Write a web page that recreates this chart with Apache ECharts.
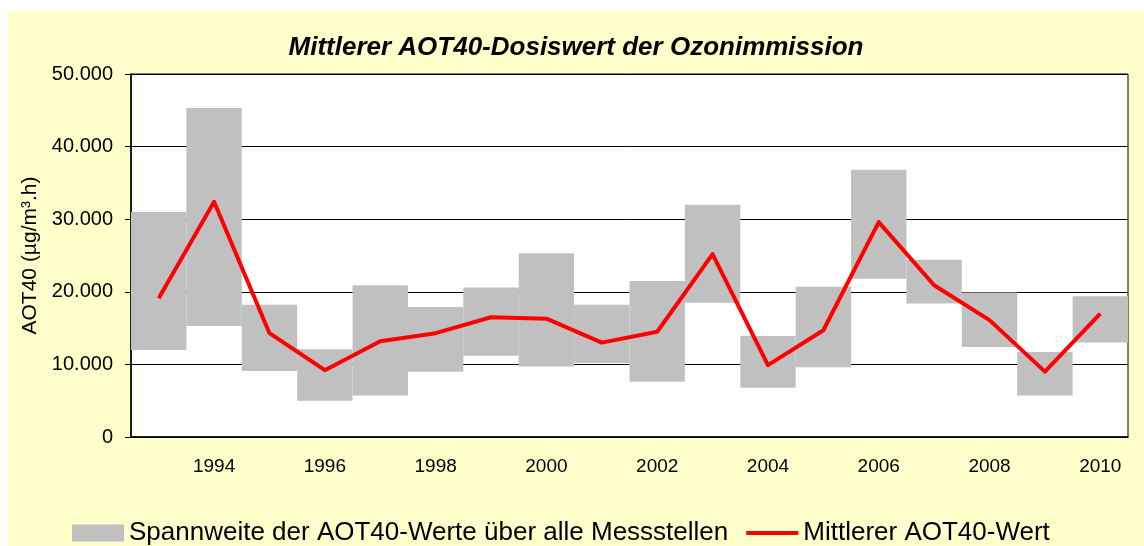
<!DOCTYPE html>
<html>
<head>
<meta charset="utf-8">
<script src="https://cdn.jsdelivr.net/npm/echarts@6/dist/echarts.min.js"></script>
<style>
  body { margin: 0; background: #ffffff; }
  #chart { position: absolute; left: 8px; top: 11px; width: 1136px; height: 535px; }
</style>
</head>
<body>
<div id="chart"></div>
<script>
const years = ['1993', '1994', '1995', '1996', '1997', '1998', '1999', '2000', '2001',
  '2002', '2003', '2004', '2005', '2006', '2007', '2008', '2009', '2010']
// Spannweite: kleinster und größter AOT40-Wert je Jahr
const rangeMin = [12000, 15300, 9100, 5000, 5700, 9000, 11200, 9700, 10200,
  7600, 18500, 6800, 9600, 21800, 18400, 12400, 5700, 13000]
const rangeMax = [31000, 45300, 18200, 12100, 20900, 17900, 20600, 25300, 18200,
  21500, 32000, 13900, 20700, 36800, 24400, 19900, 11700, 19400]
// Mittlerer AOT40-Wert
const meanValue = [19100, 32400, 14300, 9200, 13200, 14300, 16500, 16300, 13000,
  14500, 25200, 9900, 14700, 29600, 20900, 16100, 9000, 17000]
const yTicks = [0, 10000, 20000, 30000, 40000, 50000]

const rangeName = 'Spannweite der AOT40-Werte über alle Messstellen'
const meanName = 'Mittlerer AOT40-Wert'
const font = 'Liberation Sans, Arial, sans-serif'

const chart = echarts.init(document.getElementById('chart'))
const options = {
  backgroundColor: '#FFFFCC',
  animation: false,
  textStyle: { fontFamily: font, color: '#000' },
  title: {
    text: 'Mittlerer AOT40-Dosiswert der Ozonimmission',
    left: 'center',
    top: 19,
    textStyle: { fontSize: 26, fontWeight: 'bold', fontStyle: 'italic', color: '#000', fontFamily: font }
  },
  legend: {
    left: 64,
    top: 509,
    padding: 0,
    itemWidth: 52,
    itemHeight: 17,
    itemGap: 18,
    textStyle: { fontSize: 26, color: '#000', fontFamily: font },
    data: [
      { name: rangeName, icon: 'rect', itemStyle: { color: '#C0C0C0' } },
      { name: meanName, icon: 'path://M0,0 L50,0 L50,4 L0,4 Z', itemStyle: { color: '#FF0000' } }
    ]
  },
  grid: {
    left: 123,
    right: 16,
    top: 63,
    bottom: 109,
    show: true,
    backgroundColor: '#ffffff',
    borderColor: '#000',
    borderWidth: 1
  },
  xAxis: {
    type: 'category',
    data: years,
    boundaryGap: true,
    axisLine: { lineStyle: { color: '#000', width: 1.5 } },
    axisTick: { show: false },
    axisLabel: {
      fontSize: 19,
      color: '#000',
      margin: 20,
      interval: (index) => index % 2 === 1
    }
  },
  yAxis: {
    type: 'value',
    min: yTicks[0],
    max: yTicks[yTicks.length - 1],
    interval: 10000,
    name: 'AOT40 (µg/m³.h)',
    nameLocation: 'middle',
    nameGap: 90,
    nameTextStyle: { fontSize: 21, color: '#000' },
    axisLine: { show: true, lineStyle: { color: '#000', width: 1.5 } },
    axisTick: { show: true, length: 6, lineStyle: { color: '#000' } },
    axisLabel: {
      fontSize: 20,
      color: '#000',
      margin: 18,
      formatter: (v) => v === 0 ? '0' : (v / 1000) + '.000'
    },
    splitLine: { show: true, lineStyle: { color: '#000', width: 1 } }
  },
  series: [
    {
      name: 'base',
      type: 'bar',
      stack: 'range',
      data: rangeMin,
      barCategoryGap: '0%',
      itemStyle: { color: 'transparent' },
      silent: true
    },
    {
      name: rangeName,
      type: 'bar',
      stack: 'range',
      data: rangeMax.map((v, i) => v - rangeMin[i]),
      barCategoryGap: '0%',
      itemStyle: { color: '#C0C0C0' }
    },
    {
      name: meanName,
      type: 'line',
      data: meanValue,
      symbol: 'none',
      z: 5,
      lineStyle: { color: '#FF0000', width: 4, join: 'round' },
      itemStyle: { color: '#FF0000' }
    }
  ]
}
chart.setOption(options)
</script>
</body>
</html>
